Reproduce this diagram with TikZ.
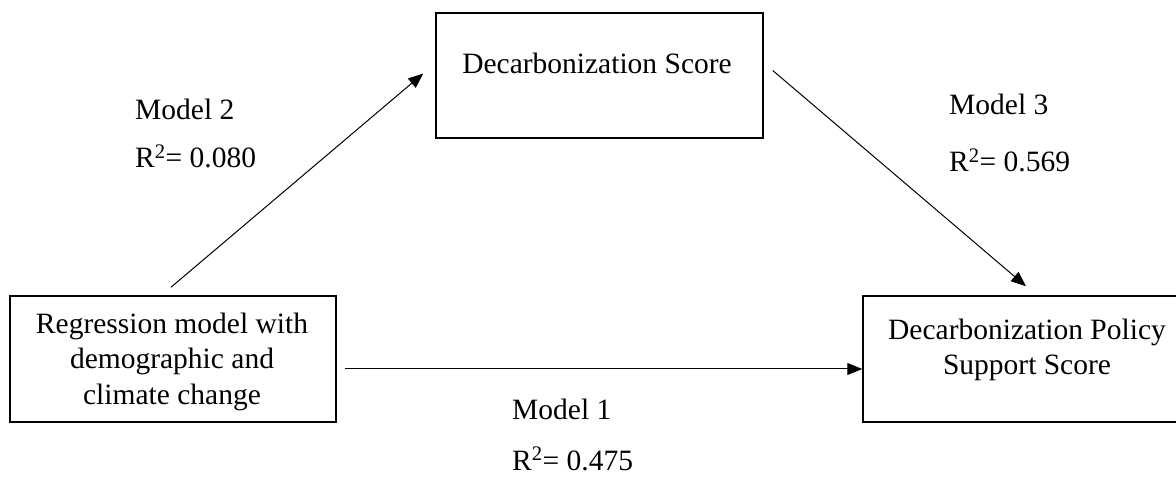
\documentclass[tikz,border=0pt]{standalone}
\usepackage{fontspec}
\setmainfont{Liberation Serif}
\usetikzlibrary{arrows.meta}
\tikzset{
  boxnode/.style={draw=black, line width=1.5pt, rectangle, inner sep=0pt},
  txt/.style={font=\fontsize{29.5}{35}\selectfont, inner sep=0pt, anchor=base},
  lbl/.style={font=\fontsize{29.5}{35}\selectfont, inner sep=0pt, anchor=base west},
  conn/.style={line width=1pt, -{Triangle[length=15pt,width=12pt]}}
}
\begin{document}
\begin{tikzpicture}[x=1pt,y=-1pt]
\useasboundingbox (0,0) rectangle (1176,478);
% boxes
\node[boxnode, minimum width=326pt, minimum height=126pt] (left) at (173,359) {};
\node[boxnode, minimum width=327pt, minimum height=125pt] (top) at (599.5,75.5) {};
\node[boxnode, minimum width=328pt, minimum height=126pt] (right) at (1027,359) {};
% box texts
\node[txt] (l1) at (172,334) {Regression model with};
\node[txt] (l2) at (172,369) {demographic and};
\node[txt] (l3) at (172,405) {climate change};
\node[txt] (t1) at (597,74) {Decarbonization Score};
\node[txt] (r1) at (1027,340) {Decarbonization Policy};
\node[txt] (r2) at (1027,375) {Support Score};
% labels
\node[lbl] (m2) at (135,120) {Model 2};
\node[lbl] (m2r) at (135,168) {R\textsuperscript{2}= 0.080};
\node[lbl] (m3) at (949,115) {Model 3};
\node[lbl] (m3r) at (949,172) {R\textsuperscript{2}= 0.569};
\node[lbl] (m1) at (512,420) {Model 1};
\node[lbl] (m1r) at (512,470) {R\textsuperscript{2}= 0.475};
% connectors
\draw[conn] ([xshift=-2pt,yshift=8pt]left.north) -- ([xshift=-12pt,yshift=2pt]top.west);
\draw[conn] ([xshift=9pt,yshift=5pt]top.east) -- ([xshift=-1pt,yshift=9pt]right.north);
\draw[conn] ([xshift=8pt,yshift=-10pt]left.east) -- ([yshift=-10pt]right.west);
\end{tikzpicture}
\end{document}
